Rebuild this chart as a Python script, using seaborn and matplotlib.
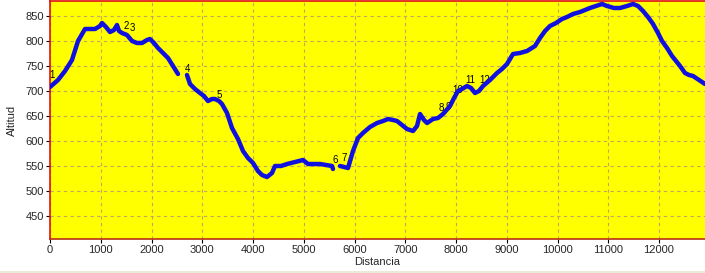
import numpy as np
import pandas as pd
import matplotlib
matplotlib.use("Agg")
import matplotlib.pyplot as plt
import seaborn as sns
from matplotlib.patches import Rectangle

# ---- data ----
seg1_dist = [0, 158, 296, 433, 552, 690, 887, 985, 1025, 1103, 1182, 1261, 1320, 1360, 1419,
             1517, 1616, 1714, 1813, 1911, 1970, 2049, 2128, 2227, 2325, 2424, 2522]
seg1_alt = [708, 722, 740, 762, 800, 824, 824, 830, 836, 828, 818, 822, 832, 820, 816,
            812, 800, 796, 796, 802, 804, 796, 786, 776, 766, 750, 734]

seg2_dist = [2699, 2759, 2857, 2956, 3034, 3113, 3192, 3251, 3330, 3389, 3488, 3586, 3704,
             3803, 3901, 4000, 4098, 4177, 4276, 4374, 4433, 4552, 4670, 4828, 4985, 5084,
             5222, 5320, 5438, 5557, 5576]
seg2_alt = [732, 714, 704, 696, 690, 680, 684, 684, 680, 674, 656, 626, 604,
            580, 566, 556, 540, 532, 528, 536, 550, 550, 554, 558, 562, 554,
            554, 554, 552, 550, 544]

seg3_dist = [5714, 5793, 5872, 5970, 6069, 6167, 6305, 6443, 6562, 6660, 6759, 6837, 6936,
             7034, 7153, 7232, 7291, 7369, 7429, 7547, 7645, 7744, 7882, 7961, 8039, 8118,
             8217, 8296, 8374, 8453, 8532, 8670, 8808, 8906, 9005, 9123, 9261, 9399, 9557,
             9655, 9754, 9852, 9970, 10089, 10187, 10305, 10443, 10542, 10640, 10758, 10877,
             10975, 11113, 11232, 11369, 11488, 11586, 11685, 11783, 11882, 11980, 12059,
             12158, 12256, 12335, 12414, 12512, 12591, 12670, 12788, 12906]
seg3_alt = [550, 548, 546, 580, 606, 616, 628, 636, 640, 644, 642, 640, 632,
            624, 620, 630, 654, 642, 636, 644, 646, 654, 670, 686, 700, 704,
            710, 706, 696, 700, 710, 722, 736, 744, 754, 774, 776, 780, 790,
            806, 820, 830, 836, 844, 848, 854, 858, 862, 866, 870, 874,
            870, 866, 866, 870, 874, 870, 860, 848, 834, 816, 800,
            786, 770, 760, 750, 736, 732, 730, 722, 714]

wp_labels = ["1", "2", "3", "4", "5", "6", "7", "8", "9", "10", "11", "12"]
wp_dist = [30, 1497, 1616, 2719, 3330, 5616, 5793, 7704, 7842, 8039, 8276, 8571]
wp_alt = [732, 830, 826, 744, 692, 562, 566, 666, 668, 702, 722, 722]

x_ticks = list(range(0, 13000, 1000))
y_ticks = list(range(450, 900, 50))

df = pd.DataFrame({
    "Distancia": seg1_dist + seg2_dist + seg3_dist,
    "Altitud": seg1_alt + seg2_alt + seg3_alt,
    "seg": [1] * len(seg1_dist) + [2] * len(seg2_dist) + [3] * len(seg3_dist),
})

# ---- plot ----
sns.set_style("white")
plt.rcParams["font.family"] = ["Liberation Sans", "DejaVu Sans"]

fig = plt.figure(figsize=(7.05, 2.73), dpi=100)
fig.patch.set_facecolor("white")
ax = fig.add_axes([50 / 705, 34 / 273, 655 / 705, 238 / 273])
ax.set_facecolor("#ffff00")

sns.lineplot(data=df, x="Distancia", y="Altitud", units="seg", estimator=None,
             sort=False, color="#1010e0", linewidth=3.2, ax=ax, zorder=3)

for lab, d, a in zip(wp_labels, wp_dist, wp_alt):
    ax.text(d, a, lab, fontsize=7, color="black", ha="center", va="center", zorder=2)

ax.set_xlim(0, 12906)
ax.set_ylim(404, 880)
ax.set_xticks(x_ticks)
ax.set_yticks(y_ticks)
ax.tick_params(axis="both", labelsize=8, length=3, width=0.8, color="black",
               direction="out", pad=1.5, bottom=True, left=True)
ax.grid(True)
for gl in ax.get_xgridlines() + ax.get_ygridlines():
    gl.set_color("#c0a860")
    gl.set_linestyle((0, (3, 3)))
    gl.set_linewidth(0.8)
    gl.set_alpha(1.0)
ax.set_axisbelow(True)

for side in ["top", "left", "bottom"]:
    ax.spines[side].set_visible(True)
    ax.spines[side].set_linewidth(1.2)
ax.spines["top"].set_color("#e01010")
ax.spines["left"].set_color("#e01010")
ax.spines["bottom"].set_color("#b83010")
ax.spines["right"].set_visible(False)

ax.set_xlabel("Distancia", fontsize=8, labelpad=1)
ax.set_ylabel("Altitud", fontsize=8, labelpad=6)

fig.patches.append(Rectangle((0, 0), 1, 2 / 273, transform=fig.transFigure,
                             facecolor="#ece9d8", edgecolor="none"))

fig.savefig("out.png", dpi=100)
